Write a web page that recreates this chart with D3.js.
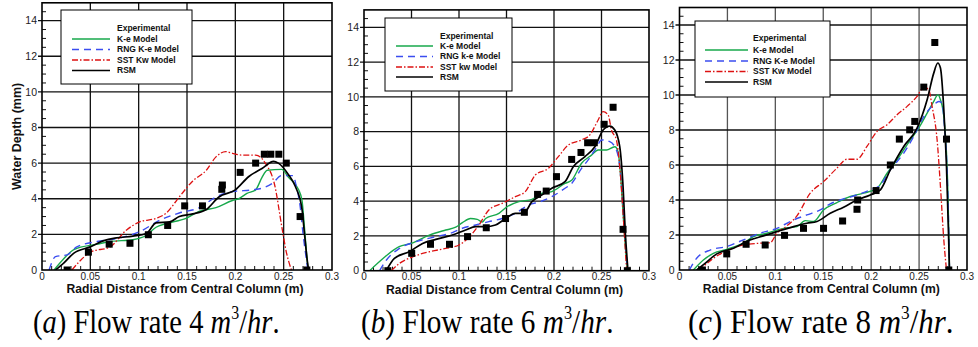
<!DOCTYPE html>
<html>
<head>
<meta charset="utf-8">
<script src="https://cdn.jsdelivr.net/npm/d3@7"></script>
<style>
  body { margin: 0; background: #fff; }
  svg { display: block; }
</style>
</head>
<body>
<div id="chart"></div>
<script>
// ---- data (radial distance in m, water depth in mm) ----
const xTicks = [0, 0.05, 0.1, 0.15, 0.2, 0.25, 0.3];
const xTickLabels = ['0', '0.05', '0.1', '0.15', '0.2', '0.25', '0.3'];
const yTicks = [0, 2, 4, 6, 8, 10, 12, 14];

const seriesNames = ['K-e Model', 'RNG K-e Model', 'SST Kw Model', 'RSM'];
const seriesNamesB = ['K-e Model', 'RNG k-e Model', 'SST kw Model', 'RSM'];
const captionRates = ['4', '6', '8'];
const captionLetters = ['a', 'b', 'c'];

// (a) 4 m3/hr
const expA = [[0.026,0],[0.048,1.0],[0.0695,1.45],[0.091,1.5],[0.110,1.98],[0.130,2.5],[0.1476,3.6],[0.166,3.6],
  [0.186,4.53],[0.1866,4.77],[0.205,5.48],[0.221,6.0],[0.230,6.5],[0.2367,6.5],[0.245,6.5],[0.2527,6.0],[0.267,3.0],[0.274,0]];
const keA = [[0.0125,0],[0.022,0.6],[0.033,1.15],[0.057,1.45],[0.0705,1.6],[0.094,1.7],[0.108,1.95],[0.118,2.4],[0.128,2.6],
  [0.149,2.9],[0.163,3.3],[0.18,3.5],[0.197,3.9],[0.2035,4.0],[0.212,4.3],[0.221,4.5],[0.2276,5.2],[0.233,5.6],[0.248,5.65],
  [0.255,5.2],[0.2655,4.5],[0.269,3.9],[0.2715,2.4],[0.275,0.2],[0.2755,0]];
const rngA = [[0.0073,0],[0.014,0.75],[0.026,0.85],[0.036,1.3],[0.057,1.6],[0.081,1.8],[0.101,2.15],[0.122,2.8],[0.142,3.2],
  [0.163,3.5],[0.18,4.1],[0.197,4.4],[0.218,4.5],[0.228,4.6],[0.238,4.85],[0.248,5.3],[0.26,5.3],[0.263,4.7],[0.267,3.6],
  [0.270,2.05],[0.274,0.4],[0.275,0]];
const sstA = [[0.031,0],[0.04,0.55],[0.05,1.0],[0.0705,1.3],[0.0875,2.25],[0.101,2.7],[0.118,2.9],[0.1286,3.2],[0.142,4.1],
  [0.156,5.0],[0.17,5.6],[0.18,6.35],[0.19,6.65],[0.197,6.55],[0.207,6.45],[0.221,6.45],[0.231,6.0],[0.241,4.7],[0.248,2.45],
  [0.253,0.95],[0.258,0]];
const rsmA = [[0.014,0],[0.0227,0.4],[0.033,0.95],[0.05,1.3],[0.064,1.65],[0.077,1.8],[0.094,1.9],[0.108,2.05],[0.118,2.65],
  [0.132,2.7],[0.142,3.0],[0.156,3.15],[0.17,3.4],[0.183,4.1],[0.2,4.5],[0.214,5.25],[0.2276,5.7],[0.2396,6.1],[0.2445,6.0],
  [0.255,5.35],[0.262,4.7],[0.269,3.4],[0.2715,2.05],[0.2747,0.4],[0.2758,0]];

// (b) 6 m3/hr
const expB = [[0.0251,0],[0.0502,1.0],[0.070,1.52],[0.090,1.52],[0.109,1.96],[0.1287,2.47],[0.149,3.0],[0.1688,3.36],
  [0.1827,4.39],[0.1918,4.58],[0.2026,5.41],[0.2186,6.4],[0.2284,6.8],[0.2354,7.36],[0.2424,7.36],[0.2528,8.42],
  [0.2622,9.4],[0.2727,2.38],[0.2772,0]];
const keB = [[0.006,0],[0.02,0.7],[0.037,1.38],[0.0495,1.57],[0.0687,2.05],[0.086,2.34],[0.0966,2.5],[0.1036,2.76],[0.112,3.0],
  [0.1192,2.95],[0.1245,2.8],[0.128,3.0],[0.142,3.3],[0.1506,3.68],[0.163,3.97],[0.1768,4.1],[0.187,4.45],[0.1977,4.55],
  [0.2116,5.02],[0.2186,5.2],[0.229,6.18],[0.2395,6.65],[0.2465,6.94],[0.2552,6.94],[0.264,7.13],[0.2674,6.85],[0.2702,5.4],
  [0.2727,3.3],[0.2751,1.38],[0.2772,0]];
const rngB = [[0.0164,0],[0.0234,0.6],[0.0373,1.28],[0.0547,1.67],[0.0757,1.96],[0.093,2.19],[0.1036,2.44],[0.1175,2.63],
  [0.1314,2.82],[0.1454,3.0],[0.1593,3.3],[0.1733,3.78],[0.1855,3.97],[0.1977,4.26],[0.2116,4.74],[0.2186,5.02],[0.229,5.89],
  [0.236,6.37],[0.2448,7.1],[0.25,7.52],[0.2587,7.42],[0.2657,6.94],[0.2692,5.98],[0.2727,3.68],[0.2761,1.0],[0.2772,0]];
const sstB = [[0.0286,0],[0.0373,0.42],[0.0513,0.8],[0.0687,1.09],[0.086,1.28],[0.1,1.48],[0.1105,1.92],[0.121,2.63],
  [0.1314,3.49],[0.1454,3.87],[0.1593,4.26],[0.1698,4.55],[0.1803,5.5],[0.1942,5.89],[0.2046,6.56],[0.2151,7.23],[0.229,7.52],
  [0.2378,7.81],[0.2465,8.67],[0.2517,9.15],[0.257,8.96],[0.2605,8.09],[0.2657,7.52],[0.2692,5.98],[0.2727,3.3],[0.2751,1.19],
  [0.2765,0]];
const rsmB = [[0.0234,0],[0.032,0.71],[0.0477,1.09],[0.0617,1.57],[0.0757,1.8],[0.093,2.05],[0.107,2.34],[0.1175,2.53],
  [0.128,2.53],[0.1384,2.63],[0.149,3.0],[0.1593,3.3],[0.168,3.3],[0.1768,3.97],[0.187,4.35],[0.1977,4.74],[0.2116,5.12],
  [0.2203,5.98],[0.2326,6.56],[0.243,7.13],[0.2517,8.09],[0.2587,8.32],[0.264,8.09],[0.2692,7.13],[0.2727,4.83],[0.2751,2.15],
  [0.2779,0]];

// (c) 8 m3/hr
const expC = [[0.0239,0],[0.0493,0.92],[0.0695,1.47],[0.0894,1.43],[0.1096,1.98],[0.1294,2.38],[0.1503,2.38],[0.1702,2.8],
  [0.1852,3.47],[0.1859,4.0],[0.2051,4.54],[0.220,6.0],[0.2294,7.48],[0.2402,8.01],[0.2455,8.49],[0.2549,10.45],
  [0.2664,13.0],[0.2786,7.48],[0.281,0]];
const keC = [[0.0145,0],[0.0249,0.57],[0.0354,0.95],[0.0493,1.18],[0.0667,1.53],[0.0772,1.91],[0.0911,2.1],[0.1085,2.38],
  [0.1225,2.48],[0.1312,2.82],[0.14,2.77],[0.1503,3.43],[0.1643,3.85],[0.1782,4.2],[0.1921,4.39],[0.2061,4.67],[0.2166,5.53],
  [0.227,6.29],[0.2409,7.44],[0.2496,8.11],[0.2584,8.96],[0.2653,9.63],[0.2695,10.01],[0.2723,9.73],[0.2758,8.77],
  [0.2786,6.68],[0.2803,4.0],[0.2817,0]];
const rngC = [[0.0103,0],[0.0179,0.67],[0.0319,1.14],[0.0493,1.34],[0.0667,1.72],[0.0841,2.1],[0.1016,2.38],[0.119,2.86],
  [0.1329,3.15],[0.1469,3.43],[0.1573,3.78],[0.1678,4.0],[0.1852,4.29],[0.1991,4.58],[0.2096,4.86],[0.22,5.72],[0.234,6.68],
  [0.2444,7.63],[0.2549,8.77],[0.2653,9.44],[0.2706,9.63],[0.274,9.54],[0.2765,8.2],[0.2793,5.53],[0.281,2.1],[0.2817,0]];
const sstC = [[0.0197,0],[0.0267,0.29],[0.0354,0.67],[0.0493,1.1],[0.0667,1.43],[0.0841,1.53],[0.0946,1.56],[0.1016,2.1],
  [0.112,2.52],[0.1225,3.09],[0.1364,4.39],[0.1503,5.05],[0.1643,5.82],[0.1747,6.33],[0.1852,6.33],[0.1956,7.06],[0.2061,7.92],
  [0.2166,8.3],[0.227,8.87],[0.2375,9.35],[0.2479,9.92],[0.2549,10.45],[0.2601,10.3],[0.2636,9.35],[0.2688,7.44],[0.2723,4.77],
  [0.2758,1.72],[0.2786,0]];
const rsmC = [[0.0179,0],[0.0267,0.38],[0.0389,0.92],[0.0563,1.24],[0.0737,1.72],[0.0876,1.95],[0.1016,2.19],[0.119,2.48],
  [0.1329,2.67],[0.1434,2.77],[0.1573,3.24],[0.1712,3.59],[0.1852,4.0],[0.1991,4.29],[0.2096,4.58],[0.22,5.72],[0.234,7.06],
  [0.2479,8.11],[0.2584,9.73],[0.2653,11.25],[0.2695,11.83],[0.2723,11.54],[0.2758,9.16],[0.2786,5.91],[0.2807,2.1],[0.2817,0]];

// ---- styling / layout ----
const lineStyles = [
  { color: '#17a84b', dash: null, width: 1.4 },
  { color: '#3b4df0', dash: '7,5', width: 1.4 },
  { color: '#dd1111', dash: '6,2,1.5,2', width: 1.3 },
  { color: '#000000', dash: null, width: 1.7 }
];

const panels = [
  { left: 42, right: 332, top: 2.8, bottom: 270, exp: expA, curves: [keA, rngA, sstA, rsmA], names: seriesNames,
    legend: { x: 61, y: 10, w: 131, h: 74, lineX: 72, lineW: 38, textX: 117, rows: [28, 39, 49.5, 60, 70.5] },
    caption: { x: 33, sx: 0.84 }, yTitle: true, vGrid: '#111' },
  { left: 364, right: 649, top: 9.9, bottom: 270.7, exp: expB, curves: [keB, rngB, sstB, rsmB], names: seriesNamesB,
    legend: { x: 385, y: 18, w: 127, h: 73, lineX: 396, lineW: 37, textX: 440, rows: [36, 46, 56.5, 67, 77] },
    caption: { x: 361, sx: 0.86 }, yTitle: false, vGrid: '#111' },
  { left: 679.5, right: 967, top: 7.5, bottom: 270, exp: expC, curves: [keC, rngC, sstC, rsmC], names: seriesNames,
    legend: { x: 695, y: 21, w: 135, h: 76, lineX: 705, lineW: 43, textX: 753, rows: [38.5, 50, 61, 71.5, 82] },
    caption: { x: 688, sx: 0.91 }, yTitle: false, vGrid: '#555' }
];

const width = 978, height = 347;
const svg = d3.select('#chart').append('svg')
  .attr('width', width).attr('height', height)
  .style('font-family', 'Arial, "Liberation Sans", sans-serif');

panels.forEach((p, i) => {
  const x = d3.scaleLinear().domain([0, 0.3]).range([p.left, p.right]);
  const y = d3.scaleLinear().domain([0, 15]).range([p.bottom, p.top]);
  const g = svg.append('g');

  const clipId = 'clip' + i;
  g.append('clipPath').attr('id', clipId).append('rect')
    .attr('x', p.left).attr('y', p.top)
    .attr('width', p.right - p.left).attr('height', p.bottom - p.top);

  // grid
  g.append('g').selectAll('line')
    .data(xTicks.filter(t => t > 0 && t < 0.3))
    .join('line')
    .attr('x1', d => x(d)).attr('x2', d => x(d))
    .attr('y1', p.top).attr('y2', p.bottom)
    .attr('stroke', p.vGrid).attr('stroke-width', 1.3);
  g.append('g').selectAll('line')
    .data(yTicks.filter(t => t > 0))
    .join('line')
    .attr('x1', p.left - 4).attr('x2', p.right)
    .attr('y1', d => y(d)).attr('y2', d => y(d))
    .attr('stroke', '#111').attr('stroke-width', 1.3);

  // minor ticks (inward)
  const yMinor = d3.range(0.5, 15, 0.5).filter(v => Math.abs(v / 2 - Math.round(v / 2)) > 1e-6);
  g.append('g').selectAll('line').data(yMinor).join('line')
    .attr('x1', p.left).attr('x2', p.left + 4)
    .attr('y1', d => y(d)).attr('y2', d => y(d))
    .attr('stroke', '#111').attr('stroke-width', 1);
  const xMinor = d3.range(1, 30).filter(k => k % 5 !== 0).map(k => k / 100);
  g.append('g').selectAll('line').data(xMinor).join('line')
    .attr('x1', d => x(d)).attr('x2', d => x(d))
    .attr('y1', p.bottom).attr('y2', p.bottom - 4)
    .attr('stroke', '#111').attr('stroke-width', 1);

  // tick labels
  g.append('g').selectAll('text').data(yTicks).join('text')
    .attr('x', p.left - 5).attr('y', d => y(d)).attr('dy', '0.35em')
    .attr('text-anchor', 'end').attr('font-size', 10.5).attr('fill', '#222')
    .text(d => d);
  g.append('g').selectAll('text').data(xTicks).join('text')
    .attr('x', d => x(d)).attr('y', p.bottom + 9.5)
    .attr('text-anchor', 'middle').attr('font-size', 10).attr('fill', '#222')
    .text((d, k) => xTickLabels[k]);

  // curves
  const line = d3.line().x(d => x(d[0])).y(d => y(d[1])).curve(d3.curveMonotoneX);
  const cg = g.append('g').attr('clip-path', `url(#${clipId})`);
  p.curves.forEach((c, k) => {
    const s = lineStyles[k];
    cg.append('path').datum(c)
      .attr('d', line).attr('fill', 'none')
      .attr('stroke', s.color).attr('stroke-width', s.width)
      .attr('stroke-dasharray', s.dash);
  });

  // experimental points
  cg.selectAll('rect.pt').data(p.exp).join('rect')
    .attr('class', 'pt')
    .attr('x', d => x(d[0]) - 3.5).attr('y', d => y(d[1]) - 3.5)
    .attr('width', 7).attr('height', 7).attr('fill', '#000');

  // frame
  g.append('rect')
    .attr('x', p.left).attr('y', p.top)
    .attr('width', p.right - p.left).attr('height', p.bottom - p.top)
    .attr('fill', 'none').attr('stroke', '#000').attr('stroke-width', 1.6);

  // legend
  const L = p.legend;
  const lg = g.append('g');
  lg.append('rect').attr('x', L.x).attr('y', L.y).attr('width', L.w).attr('height', L.h)
    .attr('fill', '#fff').attr('stroke', '#000').attr('stroke-width', 1);
  const labels = ['Experimental'].concat(p.names);
  lg.selectAll('text').data(labels).join('text')
    .attr('x', L.textX).attr('y', (d, k) => L.rows[k]).attr('dy', '0.35em')
    .attr('font-size', 8.5).attr('font-weight', 'bold').attr('fill', '#111')
    .text(d => d);
  lg.selectAll('line').data(lineStyles).join('line')
    .attr('x1', L.lineX).attr('x2', L.lineX + L.lineW)
    .attr('y1', (d, k) => L.rows[k + 1]).attr('y2', (d, k) => L.rows[k + 1])
    .attr('stroke', d => d.color).attr('stroke-width', d => d.width)
    .attr('stroke-dasharray', d => d.dash);

  // axis titles
  g.append('text')
    .attr('x', (p.left + p.right) / 2 - 2).attr('y', p.bottom + 23)
    .attr('text-anchor', 'middle').attr('font-size', 13).attr('font-weight', 'bold')
    .attr('textLength', 237).attr('lengthAdjust', 'spacingAndGlyphs').attr('fill', '#111')
    .text('Radial Distance from Central Column (m)');
  if (p.yTitle) {
    g.append('text')
      .attr('transform', `translate(21,${(p.top + p.bottom) / 2}) rotate(-90)`)
      .attr('text-anchor', 'middle').attr('font-size', 12.5).attr('font-weight', 'bold').attr('fill', '#111')
      .text('Water Depth (mm)');
  }

  // caption (condensed Times, like the scanned figure)
  const cap = svg.append('text')
    .attr('transform', `translate(${p.caption.x},333) scale(${p.caption.sx},1)`)
    .attr('font-family', '"Liberation Serif", "Times New Roman", serif')
    .attr('font-size', 34).attr('fill', '#000');
  cap.append('tspan').text('(');
  cap.append('tspan').attr('font-style', 'italic').text(captionLetters[i]);
  cap.append('tspan').text(`) Flow rate ${captionRates[i]} `);
  cap.append('tspan').attr('font-style', 'italic').text('m');
  cap.append('tspan').attr('font-size', 19).attr('dy', -14).text('3');
  cap.append('tspan').attr('dy', 14).text('/');
  cap.append('tspan').attr('font-style', 'italic').text('hr');
  cap.append('tspan').text('.');
});
</script>
</body>
</html>
